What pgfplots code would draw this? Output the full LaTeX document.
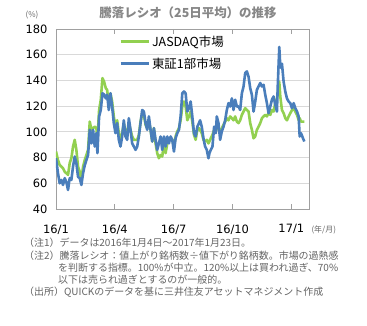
\documentclass[border=0pt]{standalone}
\usepackage{fontspec}
\setmainfont{Noto Sans CJK JP}
\newfontfamily\tickfont{DejaVu Sans}
\usepackage{pgfplots}
\pgfplotsset{compat=1.18}
\definecolor{jgreen}{RGB}{146,208,80}
\definecolor{tblue}{RGB}{74,126,187}
\definecolor{gridc}{RGB}{217,217,217}
\definecolor{axc}{RGB}{160,160,160}
\definecolor{notec}{RGB}{100,100,100}
\definecolor{titlec}{RGB}{135,135,135}
\begin{document}
\begin{tikzpicture}[x=1bp,y=1bp]
\path[use as bounding box] (0,0) rectangle (367,326);
\begin{axis}[at={(56bp,117bp)}, anchor=south west, scale only axis,
  width=253bp, height=180bp,
  xmin=0, xmax=12.9, ymin=40, ymax=180,
  ytick={40,60,...,180},
  xtick={0,3,6,9,12}, xticklabels={16/1,16/4,16/7,16/10,17/1},
  ymajorgrids, grid style={gridc, line width=0.8bp},
  axis line style={axc, line width=0.8bp},
  tick style={axc, line width=0.8bp},
  tick align=inside, major tick length=5bp,
  ytick style={draw=none},
  /pgf/number format/assume math mode=true,
  tick label style={font=\tickfont\fontsize{11.5}{13}\selectfont, black},
  yticklabel style={xshift=-5bp},
  xticklabel style={yshift=-12bp},
  legend style={draw=none, fill=none, at={(0.25,0.975)}, anchor=north west,
    font=\fontsize{12.5}{14}\selectfont, row sep=6bp, inner sep=0pt,
    cells={anchor=west}},
  legend image code/.code={\draw[#1] (0bp,0bp) -- (28bp,0bp);},
  every axis plot/.append style={line width=2.6bp, line join=round},
]
\addplot[jgreen, no markers] coordinates {
(0,84.7)(0.102,78)(0.187,74.3)(0.273,73)(0.358,71.7)(0.443,69)(0.528,67.8)(0.613,66.5)
(0.698,75.6)(0.784,79.5)(0.869,88.6)(0.954,93.8)(1.039,86)(1.124,73)(1.210,69)(1.295,62.6)
(1.380,73)(1.465,78)(1.550,82)(1.635,86)(1.721,108)(1.806,101.6)(1.891,102.9)(1.976,104)
(2.061,102.9)(2.112,93.8)(2.198,117)(2.283,125)(2.368,141.8)(2.453,139)(2.538,134)(2.606,132.7)
(2.692,122)(2.777,130)(2.862,123.6)(2.947,112)(3.032,104)(3.118,109)(3.203,99)(3.288,93.8)
(3.373,99)(3.458,106.8)(3.543,100.3)(3.629,99)(3.714,106.8)(3.799,101.6)(3.884,96.4)(3.969,93.8)
(4.055,93.8)(4.140,93.8)(4.225,97.7)(4.310,108)(4.395,114.5)(4.480,113.2)(4.566,105.5)(4.651,102.9)
(4.736,109)(4.821,101.6)(4.906,92.5)(4.991,102.9)(5.077,91)(5.162,83.4)(5.247,79.5)(5.332,82)
(5.417,80.8)(5.503,91)(5.588,83.4)(5.673,91)(5.758,93.8)(5.843,95)(5.928,93.8)(6.014,88.6)
(6.099,96.4)(6.184,100.3)(6.269,102.9)(6.354,109)(6.440,119.7)(6.525,123.6)(6.610,119.7)(6.695,109)
(6.780,112)(6.865,115.8)(6.950,108)(7.036,97.7)(7.121,93.8)(7.206,101.6)(7.291,102.9)
(7.432,99)(7.518,93.8)(7.603,92.5)(7.688,93.8)(7.773,91)(7.892,95)(7.977,97.7)(8.063,101.6)
(8.148,100.3)(8.199,104)(8.284,102.9)(8.369,100.3)(8.454,102.9)(8.540,105.5)(8.625,108)(8.710,110.6)
(8.795,109)(8.880,112)(8.966,110.6)(9.051,109)(9.136,112)(9.221,108)(9.306,106.8)(9.391,109)
(9.477,113.2)(9.562,115.8)(9.647,118.4)(9.732,117)(9.817,115.8)(9.903,106.8)(9.988,101.6)(10.073,95)
(10.158,96.4)(10.243,101.6)(10.328,104)(10.414,106.8)(10.499,110.6)(10.584,112)(10.669,113.2)(10.754,112)
(10.839,114.5)(10.925,113.2)(11.010,117)(11.095,115.8)(11.180,122.3)(11.265,126)(11.385,139)(11.436,127.5)
(11.521,117)(11.606,114.5)(11.691,110.6)(11.776,109)(11.862,112)(11.947,114.5)(12.032,117)(12.117,118.4)
(12.203,115.8)(12.288,113.2)(12.373,109)(12.424,110.6)(12.492,108)(12.594,108)(12.662,108)
};
\addlegendentry{JASDAQ市場}
\addplot[tblue, no markers] coordinates {
(0,79.5)(0.102,67.8)(0.187,60)(0.273,62.6)(0.358,58.7)(0.443,64)(0.528,61)(0.613,54.8)
(0.698,64)(0.784,62.6)(0.869,73)(0.954,80.8)(1.039,75.6)(1.124,65)(1.210,64)(1.295,58.7)
(1.380,67.8)(1.465,74)(1.550,78)(1.635,82)(1.721,101.6)(1.806,91)(1.891,101.6)(1.976,88.6)
(2.061,99)(2.112,83.4)(2.198,112)(2.283,117)(2.368,130)(2.453,129)(2.538,126)(2.606,129)
(2.692,117)(2.777,130)(2.862,119.7)(2.947,106.8)(3.032,99)(3.118,106.8)(3.203,93.8)(3.288,88.6)
(3.373,96.4)(3.458,109)(3.543,96.4)(3.629,93.8)(3.714,110.6)(3.799,101.6)(3.884,91)(3.969,88.6)
(4.055,86)(4.140,88.6)(4.225,96.4)(4.310,106.8)(4.395,117)(4.480,115.8)(4.566,106.8)(4.651,101.6)
(4.736,112)(4.821,101.6)(4.906,92.5)(4.991,102.9)(5.077,93.8)(5.162,86)(5.247,91)(5.332,96.4)
(5.417,86)(5.503,96.4)(5.588,88.6)(5.673,96.4)(5.758,91)(5.843,96.4)(5.928,93.8)(6.014,84.7)
(6.099,95)(6.184,99)(6.269,101.6)(6.354,112)(6.440,130)(6.525,131.4)(6.610,130)(6.695,115.8)
(6.780,118.4)(6.865,123.6)(6.950,112)(7.036,99)(7.121,96.4)(7.206,104)(7.291,106.8)
(7.347,109)(7.432,104)(7.518,95)(7.603,88.6)(7.688,86)(7.773,79.5)(7.824,83.4)(7.892,86)
(7.977,88.6)(8.063,104)(8.148,99)(8.199,112)(8.284,106.8)(8.369,93.8)(8.454,100.3)(8.540,104)
(8.625,109)(8.710,117)(8.795,122.3)(8.880,119.7)(8.966,126)(9.051,117)(9.136,125)(9.221,119.7)
(9.306,119.7)(9.391,117)(9.477,130)(9.562,135.3)(9.647,145.7)(9.732,147)(9.817,143)(9.903,134)
(9.988,128.8)(10.073,115.8)(10.158,123.6)(10.243,132.7)(10.328,135.3)(10.414,138)(10.499,135.3)(10.584,136.6)
(10.669,128.8)(10.754,122.3)(10.839,114.5)(10.925,119.7)(11.010,125)(11.095,127.5)(11.180,121)(11.265,115.8)
(11.31,137)(11.385,166)(11.44,150)(11.521,153)(11.606,139)(11.691,131.4)(11.776,126)(11.862,123.6)
(11.947,122.3)(12.032,118.4)(12.117,122.3)(12.203,118.4)(12.288,115.8)(12.373,112)(12.424,96.4)(12.492,99)
(12.594,95)(12.662,92.5)
};
\addlegendentry{東証1部市場}
\end{axis}
\node[font=\bfseries\fontsize{12.5}{14}\selectfont, text=titlec] at (188,313) {騰落レシオ（25日平均）の推移};
\node[font=\fontsize{8}{9}\selectfont, text=notec] at (32,311) {(\%)};
\node[font=\fontsize{8}{9}\selectfont, text=notec, anchor=west] at (308,96) {(年/月)};
\begin{scope}[every node/.style={anchor=west, inner sep=0pt, font=\fontsize{10}{11}\selectfont, text=notec}]
\node at (24,83) {（注1）データは2016年1月4日～2017年1月23日。};
\node at (24,70) {（注2）騰落レシオ：値上がり銘柄数÷値下がり銘柄数。市場の過熱感};
\node at (58,58) {を判断する指標。100\%が中立。120\%以上は買われ過ぎ、70\%};
\node at (58,46) {以下は売られ過ぎとするのが一般的。};
\node at (24,34) {（出所）QUICKのデータを基に三井住友アセットマネジメント作成};
\end{scope}
\end{tikzpicture}
\end{document}
